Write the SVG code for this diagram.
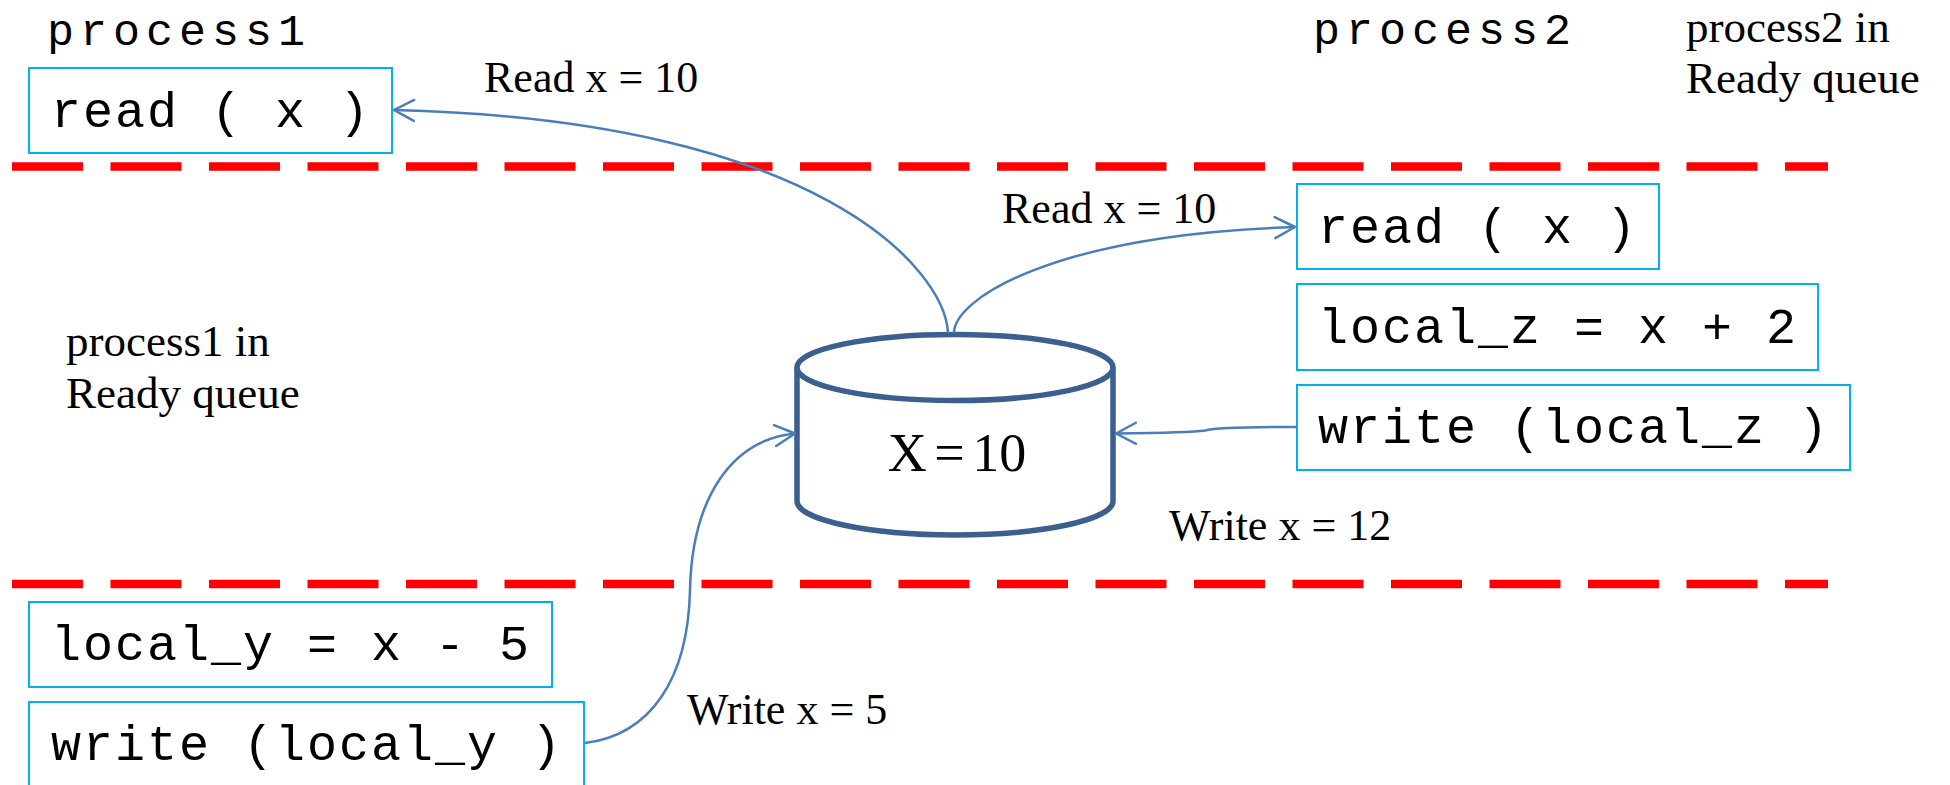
<svg xmlns="http://www.w3.org/2000/svg" width="1950" height="785" viewBox="0 0 1950 785">
  <style>
    .mono { font-family: "Liberation Mono", "DejaVu Sans Mono", monospace; fill: #000; }
    .box-text { font-size: 50px; letter-spacing: 2px; }
    .title { font-size: 45px; letter-spacing: 6px; }
    .serif { font-family: "Liberation Serif", "Times New Roman", serif; fill: #000; }
    .lbl { font-size: 44px; }
    .note { font-size: 45px; }
    .op { fill: #fff; stroke: #00B0F0; stroke-width: 2; }
    .divider { stroke: #FF0000; stroke-width: 8.5; stroke-dasharray: 71 27.5; fill: none; }
    .conn { fill: none; stroke: #4A7EBB; stroke-width: 2.5; marker-end: url(#open-arrow); }
    .db { fill: #fff; stroke: #3B5F8E; stroke-width: 5.5; }
  </style>
  <defs>
    <marker id="open-arrow" markerUnits="userSpaceOnUse" markerWidth="30" markerHeight="30" viewBox="-25 -15 30 30" refX="0" refY="0" orient="auto">
      <path d="M-20,-10.5 L0,0 L-20,10.5" fill="none" stroke="#4A7EBB" stroke-width="2.5" stroke-linecap="round" stroke-linejoin="round"/>
    </marker>
  </defs>
  <rect width="1950" height="785" fill="#fff"/>

  <!-- process lanes -->
  <g id="dividers">
    <line class="divider" x1="12" y1="166.5" x2="1828" y2="166.5"/>
    <line class="divider" x1="12" y1="584" x2="1828" y2="584"/>
  </g>

  <g id="labels">
    <text class="mono title" x="47" y="45">process1</text>
    <text class="mono title" x="1313" y="44">process2</text>
    <text class="serif note" x="66" y="356">process1 in</text>
    <text class="serif note" x="66" y="408">Ready queue</text>
    <text class="serif note" x="1686" y="42">process2 in</text>
    <text class="serif note" x="1686" y="93">Ready queue</text>
  </g>

  <!-- shared variable -->
  <g id="store-x">
    <path class="db" d="M797,367.5 L797,501 A158,34 0 0 0 1113,501 L1113,367.5"/>
    <ellipse class="db" cx="955" cy="367.5" rx="158" ry="33"/>
    <text class="serif" x="957" y="471" font-size="54" text-anchor="middle" word-spacing="-6">X = 10</text>
  </g>

  <!-- process1 operations -->
  <g id="p1-read">
    <rect class="op" x="29" y="68" width="363" height="85"/>
    <text class="mono box-text" x="51" y="127">read ( x )</text>
  </g>
  <g id="p1-compute">
    <rect class="op" x="29" y="602" width="523" height="85"/>
    <text class="mono box-text" x="51" y="660">local_y = x - 5</text>
  </g>
  <g id="p1-write">
    <rect class="op" x="29" y="702" width="555" height="90"/>
    <text class="mono box-text" x="51" y="760">write (local_y )</text>
  </g>

  <!-- process2 operations -->
  <g id="p2-read">
    <rect class="op" x="1297" y="184" width="362" height="85"/>
    <text class="mono box-text" x="1318" y="243">read ( x )</text>
  </g>
  <g id="p2-compute">
    <rect class="op" x="1297" y="284" width="521" height="86"/>
    <text class="mono box-text" x="1318" y="343">local_z = x + 2</text>
  </g>
  <g id="p2-write">
    <rect class="op" x="1297" y="385" width="553" height="85"/>
    <text class="mono box-text" x="1318" y="443">write (local_z )</text>
  </g>

  <g id="connectors">
    <path class="conn" d="M948,333 C945,270 820,120 394,110"/>
    <path class="conn" d="M954,333 C954,300 1050,235 1295,227"/>
    <path class="conn" d="M1297,427 C1240,427 1215,428 1205,430.5 C1195,432 1160,433 1116,433.5"/>
    <path class="conn" d="M585,743 C650,735 688,680 690,590 C692,500 730,440 795,433.5"/>
  </g>

  <g id="connector-labels">
    <text class="serif lbl" x="484" y="92">Read x = 10</text>
    <text class="serif lbl" x="1002" y="223">Read x = 10</text>
    <text class="serif lbl" x="1169" y="540">Write x = 12</text>
    <text class="serif lbl" x="687" y="724">Write x = 5</text>
  </g>
</svg>
